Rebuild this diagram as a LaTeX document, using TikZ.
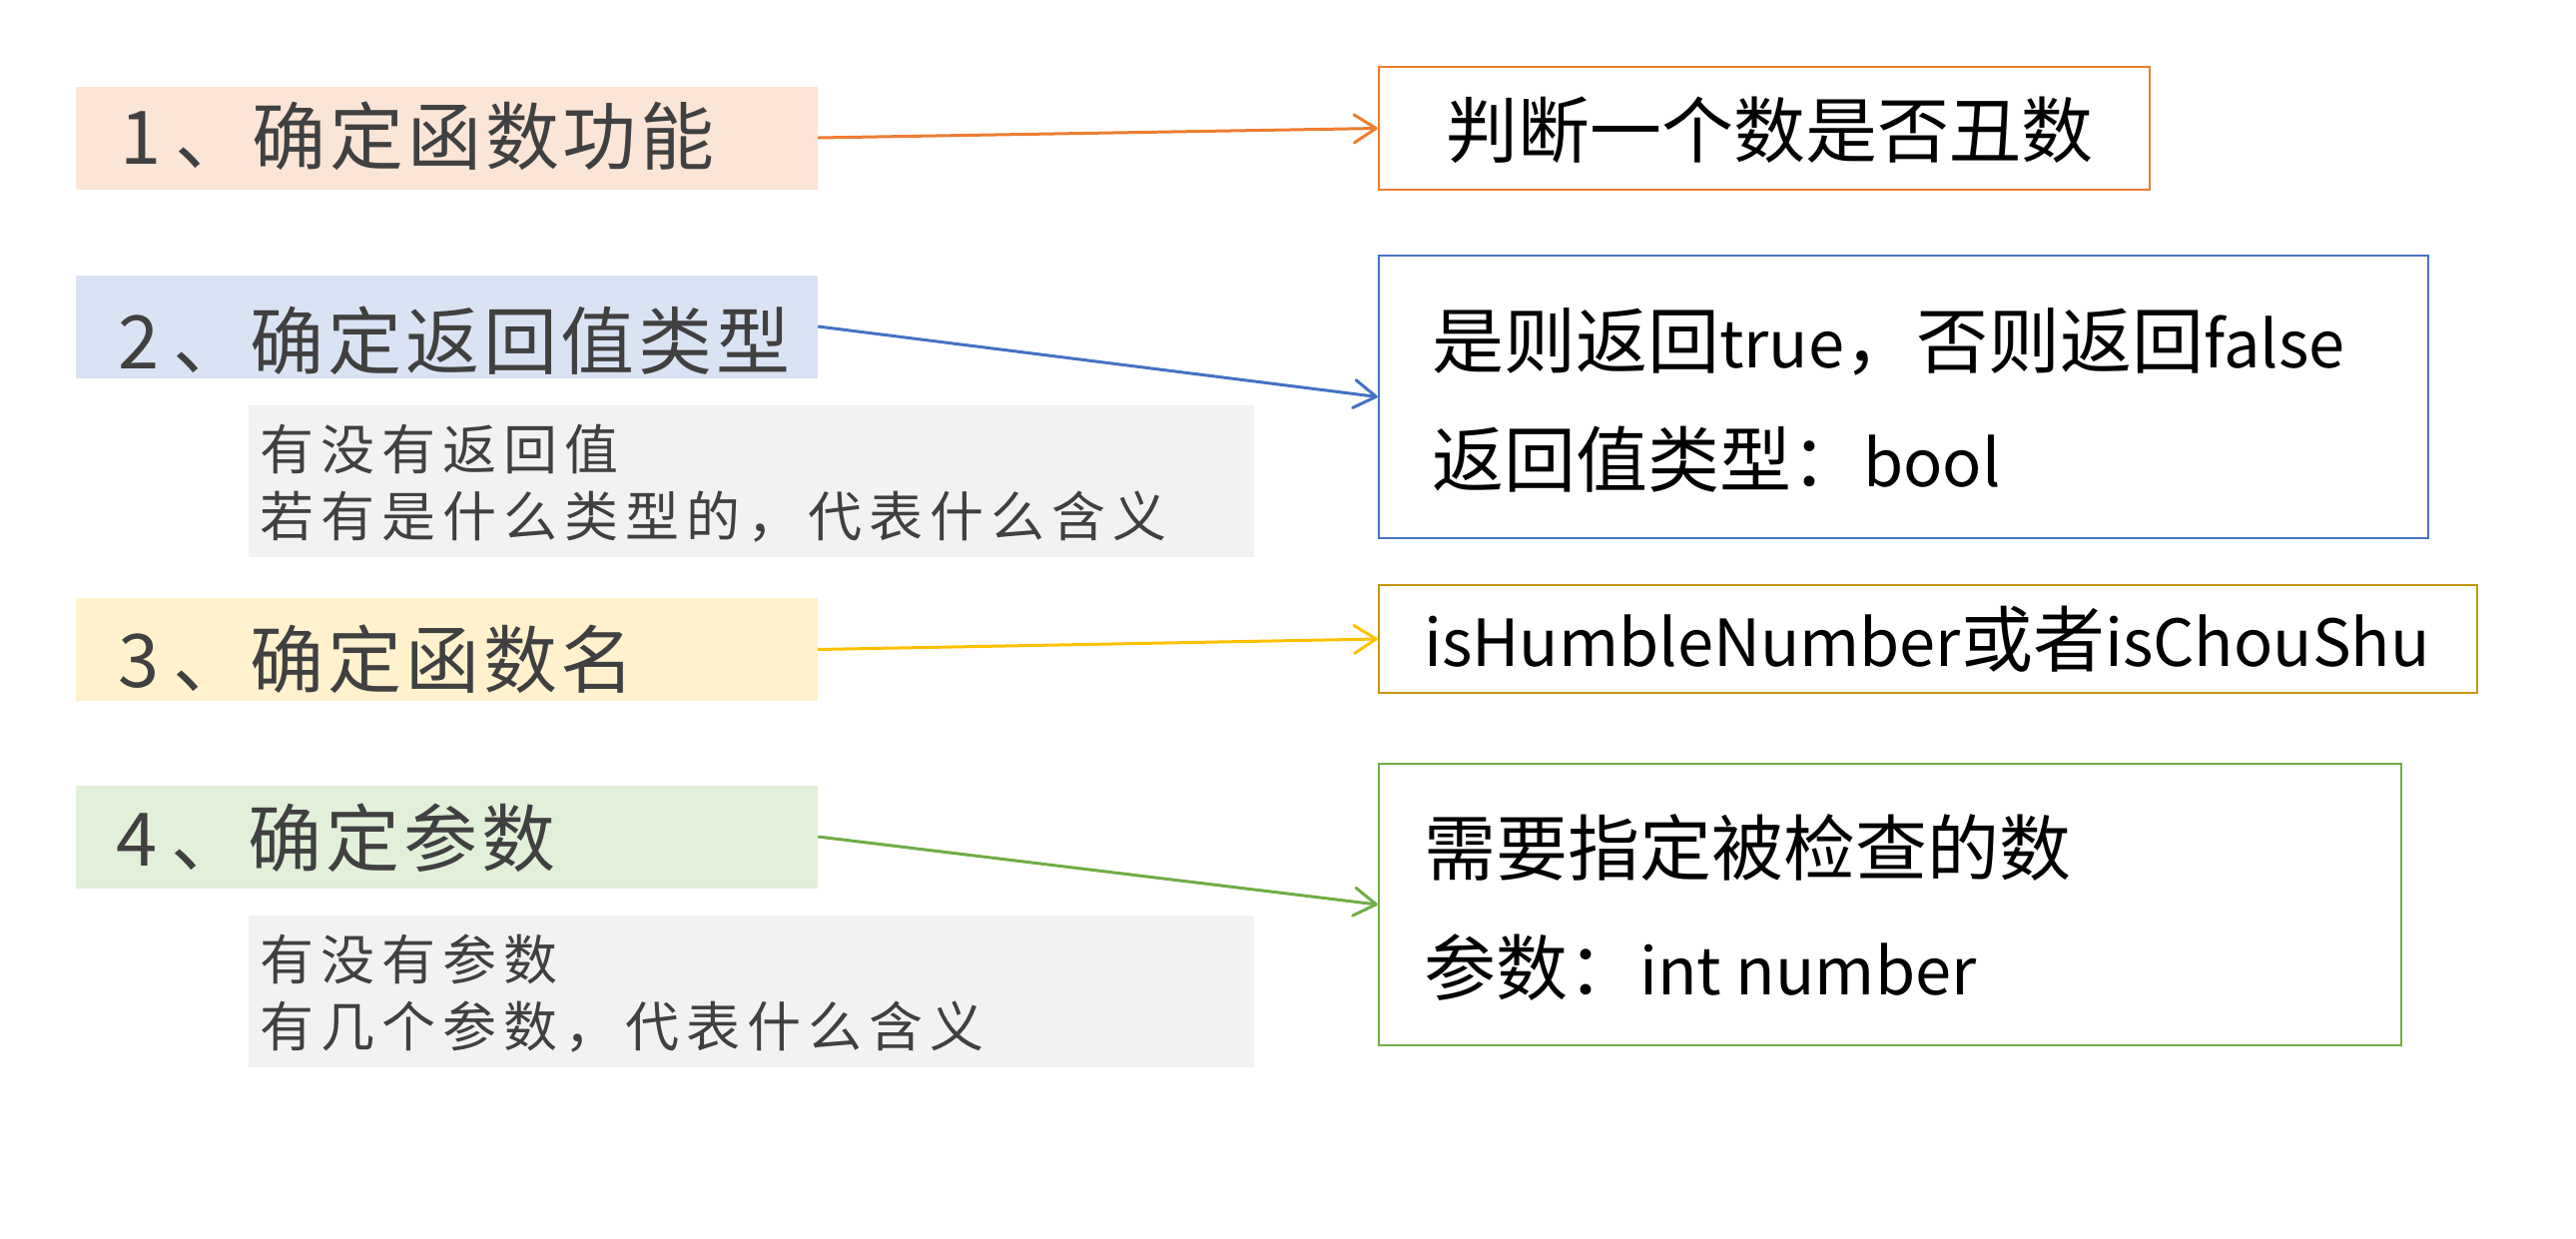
\documentclass[tikz,border=0pt]{standalone}
\usepackage{fontspec}
\setmainfont{Noto Sans CJK SC}
\newfontfamily\headfont[LetterSpace=5]{Noto Sans CJK SC}
\newfontfamily\notefont[LetterSpace=13]{Noto Sans CJK SC}
\newcommand\latx[1]{{\fontsize{65pt}{86pt}\selectfont #1}}
\usetikzlibrary{arrows.meta}
\definecolor{cOrange}{HTML}{ED7D31}
\definecolor{cBlue}{HTML}{4472C4}
\definecolor{cYellow}{HTML}{FFC000}
\definecolor{cGold}{HTML}{C9960C}
\definecolor{cGreen}{HTML}{70AD47}
\definecolor{fOrange}{HTML}{FBE5D6}
\definecolor{fBlue}{HTML}{DAE3F3}
\definecolor{fYellow}{HTML}{FFF2CC}
\definecolor{fGreen}{HTML}{E2F0D9}
\definecolor{fGray}{HTML}{F2F2F2}
\definecolor{tGray}{HTML}{404040}
\begin{document}
\begin{tikzpicture}[x=1pt,y=-1pt,
  headbox/.style={fill=#1, draw=none, minimum width=743pt, minimum height=103pt, inner sep=0pt},
  notebox/.style={fill=fGray, draw=none, minimum width=1007pt, minimum height=152pt, inner sep=0pt},
  ansbox/.style={draw=#1, line width=2.5pt, fill=white, inner sep=0pt},
  headtext/.style={font=\headfont\fontsize{74pt}{88pt}\selectfont, text=tGray, anchor=base west, inner sep=0pt},
  notetext/.style={font=\notefont\fontsize{54pt}{67pt}\selectfont, text=tGray, anchor=base west, inner sep=0pt},
  anstext/.style={font=\fontsize{72pt}{86pt}\selectfont, text=black, anchor=base west, inner sep=0pt},
  link/.style={draw=#1, line width=3pt, -{Straight Barb[length=22pt,width=28pt,round]}}
]
\useasboundingbox (0,0) rectangle (2580,1240);

% left heading boxes
\node[headbox=fOrange] (h1) at (447.5,138) {};
\node[headbox=fBlue]   (h2) at (447.5,327) {};
\node[headbox=fYellow] (h3) at (447.5,650.5) {};
\node[headbox=fGreen]  (h4) at (447.5,838) {};
\node[headtext] (h1t) at (120,164) {1\kern14pt 、确定函数功能};
\node[headtext] (h2t) at (118,369) {2\kern14pt 、确定返回值类型};
\node[headtext] (h3t) at (118,688) {3\kern14pt 、确定函数名};
\node[headtext] (h4t) at (116,867) {4\kern14pt 、确定参数};

% note boxes
\node[notebox] (g1) at (752.5,482) {};
\node[notebox] (g2) at (752.5,993) {};
\node[notetext] (g1a) at (260,470) {有没有返回值};
\node[notetext] (g1b) at (260,537) {若有是什么类型的，代表什么含义};
\node[notetext] (g2a) at (260,981) {有没有参数};
\node[notetext] (g2b) at (260,1048) {有几个参数，代表什么含义};

% answer boxes
\node[ansbox=cOrange, minimum width=772pt, minimum height=123pt] (r1) at (1767,128.5) {};
\node[ansbox=cBlue,   minimum width=1051pt, minimum height=283pt] (r2) at (1906.5,397.5) {};
\node[ansbox=cGold,   minimum width=1100pt, minimum height=108pt] (r3) at (1931,640) {};
\node[ansbox=cGreen,  minimum width=1024pt, minimum height=282pt] (r4) at (1893,906) {};
\node[anstext] (r1t) at (1448,157) {判断一个数是否丑数};
\node[anstext] (r2a) at (1434,368) {是则返回\latx{true}，否则返回\latx{false}};
\node[anstext] (r2b) at (1434,487) {返回值类型：\latx{bool}};
\node[anstext] (r3t) at (1426,667) {\latx{isHumbleNumber}或者\latx{isChouShu}};
\node[anstext] (r4a) at (1426,876) {需要指定被检查的数};
\node[anstext] (r4b) at (1426,996) {参数：\latx{int number}};

% connectors
\draw[link=cOrange] (h1.east) -- (r1.west);
\draw[link=cBlue]   (h2.east) -- (r2.west);
\draw[link=cYellow] (h3.east) -- (r3.west);
\draw[link=cGreen]  (h4.east) -- (r4.west);
\end{tikzpicture}
\end{document}
